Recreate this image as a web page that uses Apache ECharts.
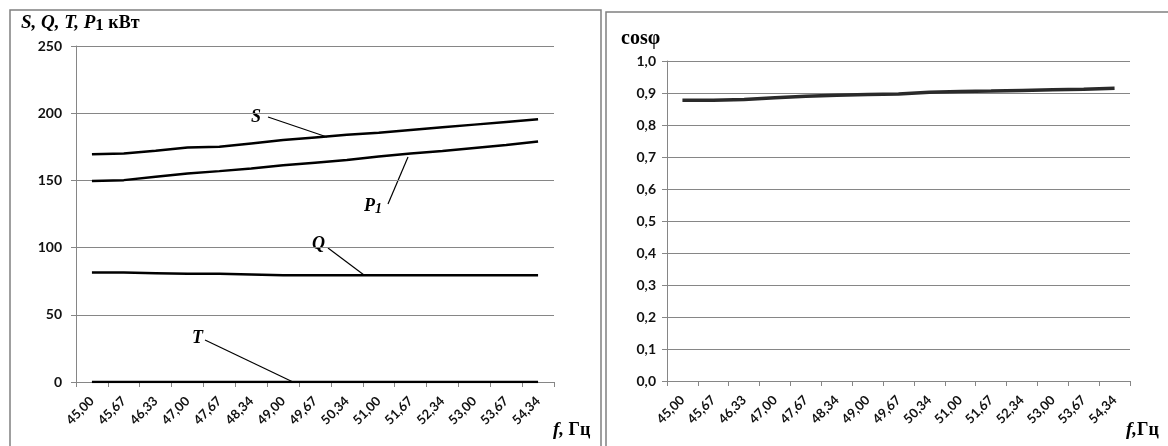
<!DOCTYPE html>
<html>
<head>
<meta charset="utf-8">
<script src="https://cdn.jsdelivr.net/npm/echarts@6/dist/echarts.min.js"></script>
<style>
html,body{margin:0;padding:0;background:#fff;}
#c{width:1168px;height:446px;}
</style>
</head>
<body>
<div id="c"></div>
<script>
// ---- data ----
var freqLabels = ['45,00','45,67','46,33','47,00','47,67','48,34','49,00','49,67','50,34','51,00','51,67','52,34','53,00','53,67','54,34'];
var S  = [169.5,170,172,174.5,175,177.5,180,182,184,185.5,187.5,189.5,191.5,193.5,195.5];
var P1 = [149.5,150.2,152.8,155.2,156.9,158.9,161.2,163.2,165.1,167.7,170.1,171.9,174.1,176.3,178.9];
var Q  = [81.5,81.5,81,80.5,80.5,80,79.5,79.5,79.5,79.5,79.5,79.5,79.5,79.5,79.5];
var T  = [0,0,0,0,0,0,0,0,0,0,0,0,0,0,0];
var cosPhi = [0.877,0.877,0.880,0.885,0.890,0.893,0.895,0.897,0.902,0.905,0.906,0.908,0.910,0.912,0.915];
var leftTicks = [0,50,100,150,200,250];
var rightTicks = [0,0.1,0.2,0.3,0.4,0.5,0.6,0.7,0.8,0.9,1.0];

var chart = echarts.init(document.getElementById('c'), null, {renderer:'canvas'});
var labelFont = 'Lato, "Open Sans", sans-serif';
var serif = '"Liberation Serif", "Times New Roman", serif';
var gridColor = '#868686';

function xAxisFor(gi){
  return {
    type:'category', gridIndex:gi, data:freqLabels, boundaryGap:true,
    axisLine:{lineStyle:{color:gridColor,width:1}},
    axisTick:{show:true,length:5,inside:false,alignWithLabel:false,lineStyle:{color:gridColor}},
    axisLabel:{rotate:45,interval:0,color:'#111',fontFamily:labelFont,fontSize:13,fontWeight:'bold',margin:17},
    splitLine:{show:false}
  };
}

var lineStyleBlack = {color:'#000',width:2.5};
function ser(name,data,gi){
  return {type:'line',name:name,xAxisIndex:gi,yAxisIndex:gi,data:data,symbol:'none',smooth:false,
    lineStyle:lineStyleBlack,itemStyle:{color:'#000'},z:5,animation:false};
}

var option = {
  animation:false,
  backgroundColor:'#fff',
  grid:[
    {left:76,top:46,width:478,height:336},
    {left:667,top:61,width:463,height:320}
  ],
  xAxis:[xAxisFor(0),xAxisFor(1)],
  yAxis:[
    {type:'value',gridIndex:0,min:0,max:250,interval:50,
     axisLine:{show:true,lineStyle:{color:gridColor}},
     axisTick:{show:true,length:5,lineStyle:{color:gridColor}},
     axisLabel:{color:'#111',fontFamily:labelFont,fontSize:14,fontWeight:'bold',margin:14},
     splitLine:{show:true,lineStyle:{color:gridColor,width:1}}},
    {type:'value',gridIndex:1,min:0,max:1,interval:0.1,
     axisLine:{show:true,lineStyle:{color:gridColor}},
     axisTick:{show:true,length:5,lineStyle:{color:gridColor}},
     axisLabel:{color:'#111',fontFamily:labelFont,fontSize:14,fontWeight:'bold',margin:11,
       formatter:function(v){return v.toFixed(1).replace('.',',');}},
     splitLine:{show:true,lineStyle:{color:gridColor,width:1}}}
  ],
  series:[
    ser('S',S,0), ser('P1',P1,0), ser('Q',Q,0), ser('T',T,0),
    {type:'line',name:'cosφ',xAxisIndex:1,yAxisIndex:1,data:cosPhi,symbol:'none',
     lineStyle:{color:'#2a2a2a',width:3.5},itemStyle:{color:'#2a2a2a'},z:5}
  ],
  graphic:[
    // panel borders
    {type:'rect',shape:{x:10,y:10,width:591,height:460},style:{fill:null,stroke:'#808080',lineWidth:1.5},z:0,silent:true},
    {type:'rect',shape:{x:606,y:12,width:600,height:460},style:{fill:null,stroke:'#808080',lineWidth:1.5},z:0,silent:true},
    // left title
    {type:'text',left:21,top:14,style:{
      text:'{i|S, Q, T, P}{s|1}{b| кВт}',
      rich:{
        i:{fontFamily:serif,fontStyle:'italic',fontWeight:'bold',fontSize:19,fill:'#000'},
        s:{fontFamily:serif,fontWeight:'bold',fontSize:17,fill:'#000',padding:[5,0,0,0]},
        b:{fontFamily:serif,fontWeight:'bold',fontSize:18,fill:'#000'}
      }}},
    // right title
    {type:'text',left:621,top:29,style:{text:'cosφ',fontFamily:serif,fontWeight:'bold',fontSize:20,fill:'#000'}},
    // x-axis names
    {type:'text',left:553,top:421,style:{
      text:'{i|f,}{b| Гц}',
      rich:{i:{fontFamily:serif,fontStyle:'italic',fontWeight:'bold',fontSize:19,fill:'#000'},
            b:{fontFamily:serif,fontWeight:'bold',fontSize:18,fill:'#000'}}}},
    {type:'text',left:1126,top:421,style:{
      text:'{i|f,}{b|Гц}',
      rich:{i:{fontFamily:serif,fontStyle:'italic',fontWeight:'bold',fontSize:19,fill:'#000'},
            b:{fontFamily:serif,fontWeight:'bold',fontSize:18,fill:'#000'}}}},
    // annotations
    {type:'text',left:251,top:108,style:{text:'S',fontFamily:serif,fontStyle:'italic',fontWeight:'bold',fontSize:18,fill:'#000'}},
    {type:'line',shape:{x1:268,y1:117,x2:327,y2:137},style:{stroke:'#000',lineWidth:1.2}},
    {type:'text',left:364,top:197,style:{
      text:'{i|P}{s|1}',
      rich:{i:{fontFamily:serif,fontStyle:'italic',fontWeight:'bold',fontSize:18,fill:'#000'},
            s:{fontFamily:serif,fontStyle:'italic',fontWeight:'bold',fontSize:14,fill:'#000',padding:[7,0,0,0]}}}},
    {type:'line',shape:{x1:388,y1:204,x2:408,y2:157},style:{stroke:'#000',lineWidth:1.2}},
    {type:'text',left:312,top:235,style:{text:'Q',fontFamily:serif,fontStyle:'italic',fontWeight:'bold',fontSize:18,fill:'#000'}},
    {type:'line',shape:{x1:328,y1:248,x2:364,y2:275},style:{stroke:'#000',lineWidth:1.2}},
    {type:'text',left:192,top:329,style:{text:'T',fontFamily:serif,fontStyle:'italic',fontWeight:'bold',fontSize:18,fill:'#000'}},
    {type:'line',shape:{x1:205,y1:340,x2:293,y2:382},style:{stroke:'#000',lineWidth:1.2}}
  ]
};
chart.setOption(option);
</script>
</body>
</html>
